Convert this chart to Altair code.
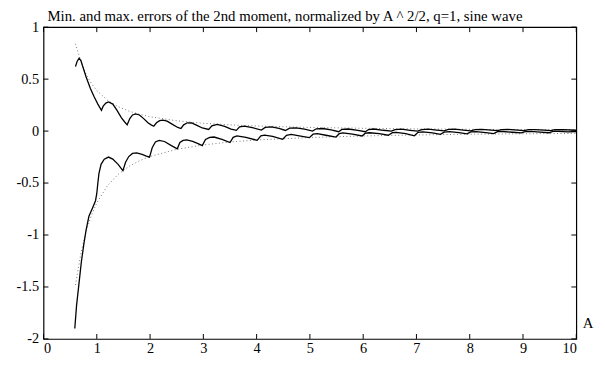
import altair as alt
import pandas as pd

# ---- data ----
max_A = [0.60, 0.63, 0.667, 0.70, 0.75, 0.80, 0.88, 0.95, 1.02, 1.087, 1.12, 1.17, 1.22, 1.30, 1.38, 1.46,
         1.52, 1.57, 1.62, 1.67, 1.73, 1.80, 1.88, 1.96, 2.02, 2.07, 2.12, 2.18, 2.24, 2.32, 2.42, 2.52,
         2.58, 2.63, 2.70, 2.78, 2.88, 2.98, 3.10, 3.16, 3.26, 3.40, 3.52, 3.62, 3.68, 3.77, 3.92, 4.09,
         4.16, 4.28, 4.42, 4.54, 4.62, 4.74, 4.90, 5.05, 5.12, 5.24, 5.40, 5.54, 5.60, 5.72, 5.90, 6.04,
         6.10, 6.20, 6.38, 6.53, 6.60, 6.72, 6.88, 7.02, 7.10, 7.22, 7.38, 7.52, 7.60, 7.72, 7.88, 8.02,
         8.10, 8.22, 8.40, 8.52, 8.60, 8.72, 8.90, 9.02, 9.10, 9.22, 9.40, 9.52, 9.60, 9.75, 10.0]
max_err = [0.62, 0.67, 0.70, 0.68, 0.60, 0.52, 0.41, 0.33, 0.26, 0.20, 0.24, 0.27, 0.28, 0.26, 0.20, 0.13,
           0.09, 0.06, 0.12, 0.155, 0.165, 0.155, 0.12, 0.08, 0.06, 0.047, 0.08, 0.10, 0.105, 0.095, 0.065, 0.035,
           0.025, 0.06, 0.08, 0.078, 0.055, 0.03, 0.016, 0.05, 0.064, 0.045, 0.02, 0.007, 0.04, 0.047, 0.033, 0.01,
           0.035, 0.04, 0.025, 0.006, 0.028, 0.031, 0.018, 0.0, 0.022, 0.025, 0.012, -0.006, 0.016, 0.02, 0.008, -0.006,
           0.015, 0.02, 0.008, 0.0, 0.015, 0.018, 0.008, 0.0, 0.015, 0.018, 0.01, 0.002, 0.016, 0.018, 0.01, 0.003,
           0.015, 0.017, 0.01, 0.004, 0.015, 0.016, 0.01, 0.005, 0.014, 0.015, 0.01, 0.005, 0.013, 0.014, 0.008]

min_A = [0.587, 0.62, 0.667, 0.71, 0.759, 0.80, 0.852, 0.92, 0.976, 1.00, 1.02, 1.04, 1.08, 1.14, 1.22, 1.30,
         1.40, 1.49, 1.54, 1.60, 1.67, 1.75, 1.85, 1.93, 1.99, 2.04, 2.10, 2.17, 2.27, 2.40, 2.51, 2.56,
         2.62, 2.69, 2.80, 2.90, 2.98, 3.04, 3.12, 3.20, 3.35, 3.50, 3.56, 3.63, 3.80, 4.01, 4.08, 4.15,
         4.30, 4.49, 4.56, 4.65, 4.80, 4.99, 5.06, 5.14, 5.30, 5.49, 5.55, 5.62, 5.80, 5.98, 6.04, 6.12,
         6.30, 6.47, 6.55, 6.62, 6.80, 6.96, 7.03, 7.12, 7.30, 7.45, 7.52, 7.62, 7.80, 7.95, 8.02, 8.12,
         8.30, 8.45, 8.52, 8.62, 8.80, 8.97, 9.04, 9.14, 9.32, 9.49, 9.56, 9.66, 9.85, 10.0]
min_err = [-1.90, -1.68, -1.46, -1.26, -1.08, -0.95, -0.82, -0.74, -0.67, -0.60, -0.50, -0.41, -0.32, -0.27, -0.25, -0.27,
           -0.32, -0.38, -0.30, -0.245, -0.215, -0.21, -0.225, -0.24, -0.25, -0.16, -0.105, -0.09, -0.10, -0.14, -0.17, -0.11,
           -0.09, -0.085, -0.10, -0.12, -0.14, -0.08, -0.06, -0.057, -0.08, -0.11, -0.06, -0.047, -0.06, -0.089, -0.045, -0.038,
           -0.05, -0.079, -0.04, -0.032, -0.045, -0.063, -0.03, -0.025, -0.04, -0.057, -0.025, -0.018, -0.03, -0.047, -0.02, -0.016,
           -0.025, -0.04, -0.015, -0.012, -0.025, -0.045, -0.012, -0.008, -0.018, -0.032, -0.01, -0.006, -0.015, -0.026, -0.008, -0.005,
           -0.014, -0.025, -0.006, -0.004, -0.011, -0.018, -0.005, -0.003, -0.01, -0.016, -0.003, -0.002, -0.008, -0.004]

env_A = [0.6, 0.7, 0.8, 0.9, 1.0, 1.2, 1.4, 1.6, 1.8, 2.0, 2.5, 3.0, 3.5, 4.0, 5.0, 6.0, 7.0, 8.0, 9.0, 10.0]
env_upper = [0.84, 0.67, 0.545, 0.457, 0.39, 0.297, 0.235, 0.193, 0.161, 0.138, 0.099, 0.075, 0.06, 0.049,
             0.035, 0.027, 0.021, 0.017, 0.014, 0.012]
env_lower = [-1.48, -1.18, -0.96, -0.81, -0.69, -0.525, -0.417, -0.341, -0.286, -0.244, -0.175, -0.133, -0.105,
             -0.086, -0.062, -0.047, -0.037, -0.03, -0.026, -0.022]

x_ticks = [0, 1, 2, 3, 4, 5, 6, 7, 8, 9, 10]
y_ticks = [-2, -1.5, -1, -0.5, 0, 0.5, 1]

title_text = "Min. and max. errors of the 2nd moment, normalized by A ^ 2/2, q=1, sine wave"
x_title = "A"

W, H = 540, 316
FONT = "Liberation Serif"

xs = alt.Scale(domain=[0, 10], nice=False, zero=False)
ys = alt.Scale(domain=[-2, 1], nice=False, zero=False)

df_max = pd.DataFrame({"A": max_A, "v": max_err})
df_min = pd.DataFrame({"A": min_A, "v": min_err})
df_eu = pd.DataFrame({"A": env_A, "v": env_upper})
df_el = pd.DataFrame({"A": env_A, "v": env_lower})
df_xt = pd.DataFrame({"t": x_ticks})
df_yt = pd.DataFrame({"t": y_ticks})
df_title = pd.DataFrame({"s": [title_text]})
df_xtitle = pd.DataFrame({"s": [x_title]})

axis_common = dict(ticks=False, domain=False, grid=False, labelFont=FONT, labelFontSize=14.5,
                   labelColor="black", labelExpr="datum.value")
x_enc = alt.X("A:Q", scale=xs, title=None,
              axis=alt.Axis(values=x_ticks, labelPadding=3, **axis_common))
y_enc = alt.Y("v:Q", scale=ys, title=None,
              axis=alt.Axis(values=y_ticks, labelPadding=5, **axis_common))

dot_style = dict(color="#777777", strokeWidth=1, strokeDash=[1, 2.5])
env_u = alt.Chart(df_eu).mark_line(**dot_style).encode(x=x_enc, y=y_enc)
env_l = alt.Chart(df_el).mark_line(**dot_style).encode(x="A:Q", y="v:Q")
line_max = alt.Chart(df_max).mark_line(color="black", strokeWidth=1.3).encode(x="A:Q", y="v:Q")
line_min = alt.Chart(df_min).mark_line(color="black", strokeWidth=1.3).encode(x="A:Q", y="v:Q")

tick_len = 5
left_t = alt.Chart(df_yt).mark_rule(color="black", strokeWidth=1).encode(
    y=alt.Y("t:Q", scale=ys), x=alt.value(0), x2=alt.value(tick_len))
right_t = alt.Chart(df_yt).mark_rule(color="black", strokeWidth=1).encode(
    y=alt.Y("t:Q", scale=ys), x=alt.value(W), x2=alt.value(W - tick_len))
bottom_t = alt.Chart(df_xt).mark_rule(color="black", strokeWidth=1).encode(
    x=alt.X("t:Q", scale=xs), y=alt.value(H), y2=alt.value(H - tick_len))
top_t = alt.Chart(df_xt).mark_rule(color="black", strokeWidth=1).encode(
    x=alt.X("t:Q", scale=xs), y=alt.value(0), y2=alt.value(tick_len))

title_mark = alt.Chart(df_title).mark_text(
    font=FONT, fontSize=15, color="black", align="left", baseline="alphabetic"
).encode(text="s:N", x=alt.value(4), y=alt.value(-6.5))
xtitle_mark = alt.Chart(df_xtitle).mark_text(
    font=FONT, fontSize=15, color="black", align="center", baseline="middle"
).encode(text="s:N", x=alt.value(552), y=alt.value(H - 16))

chart = alt.layer(env_u, env_l, line_max, line_min, left_t, right_t, bottom_t, top_t,
                  title_mark, xtitle_mark).properties(
    width=W, height=H,
    background="white",
    autosize=alt.AutoSizeParams(type="none"),
    padding={"left": 36, "top": 17, "right": 21, "bottom": 25},
).configure_axis(
    labelFont=FONT, labelFontSize=14.5, labelColor="black", ticks=False, domain=False, grid=False
).configure_view(stroke="black", strokeWidth=1.2)

chart.save("out.html", embed_options={"renderer": "svg", "actions": False})
